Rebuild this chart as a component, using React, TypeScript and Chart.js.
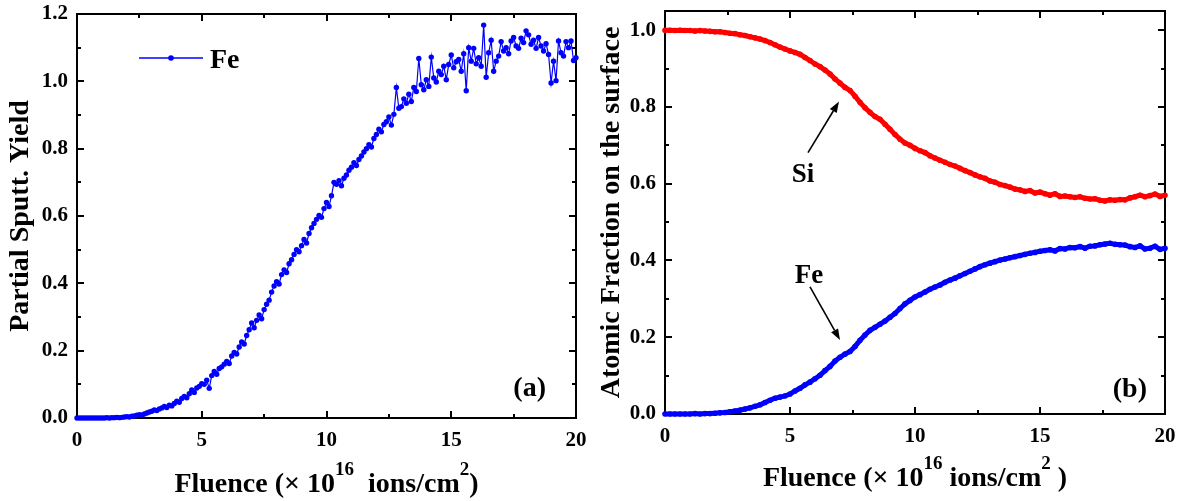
import React, { useEffect, useRef } from "react";
import { Chart, registerables } from "chart.js";

Chart.register(...registerables);

const FONT = "'Liberation Serif', 'Times New Roman', serif";

// ---- data ----
const FLUENCE_MAJOR = [0, 5, 10, 15, 20];
const FLUENCE_MINOR = [2.5, 7.5, 12.5, 17.5];
const STEP_A = 0.1; // fluence spacing of panel (a) samples
const STEP_B = 0.2; // fluence spacing of panel (b) samples

// Panel (a): partial sputtering yield of Fe
const FE_YIELD = [
  0.000, 0.000, 0.000, 0.000, 0.000, 0.000, 0.000, 0.000, 0.000, 0.000,
  0.000, 0.000, 0.001, 0.000, 0.001, 0.001, 0.002, 0.001, 0.002, 0.003,
  0.004, 0.003, 0.005, 0.006, 0.008, 0.010, 0.009, 0.012, 0.015, 0.018,
  0.020, 0.024, 0.022, 0.027, 0.030, 0.034, 0.031, 0.038, 0.036, 0.043,
  0.050, 0.047, 0.058, 0.064, 0.060, 0.072, 0.083, 0.076, 0.089, 0.094,
  0.102, 0.100, 0.112, 0.088, 0.126, 0.138, 0.130, 0.147, 0.152, 0.160,
  0.168, 0.162, 0.184, 0.195, 0.190, 0.211, 0.226, 0.220, 0.245, 0.262,
  0.282, 0.268, 0.290, 0.306, 0.295, 0.322, 0.338, 0.350, 0.374, 0.392,
  0.405, 0.398, 0.426, 0.440, 0.432, 0.458, 0.470, 0.486, 0.500, 0.494,
  0.512, 0.530, 0.520, 0.548, 0.565, 0.578, 0.590, 0.602, 0.596, 0.622,
  0.640, 0.628, 0.660, 0.700, 0.694, 0.705, 0.690, 0.712, 0.722, 0.736,
  0.745, 0.758, 0.750, 0.768, 0.778, 0.790, 0.800, 0.812, 0.805, 0.830,
  0.842, 0.858, 0.850, 0.872, 0.880, 0.894, 0.870, 0.902, 0.982, 0.920,
  0.925, 0.948, 0.935, 0.962, 0.940, 0.982, 0.970, 1.068, 0.990, 0.975,
  1.005, 0.985, 1.072, 1.010, 0.998, 1.030, 1.020, 1.045, 1.005, 1.050,
  1.078, 1.040, 1.058, 1.065, 1.030, 1.082, 0.972, 1.100, 1.060, 1.098,
  1.052, 1.070, 1.045, 1.167, 1.012, 1.085, 1.122, 1.030, 1.060, 1.075,
  1.118, 1.090, 1.100, 1.082, 1.120, 1.130, 1.105, 1.098, 1.128, 1.115,
  1.150, 1.138, 1.110, 1.122, 1.098, 1.130, 1.105, 1.090, 1.112, 1.080,
  0.995, 1.060, 1.002, 1.120, 1.085, 1.075, 1.118, 1.100, 1.120, 1.062,
  1.070,
];

// Panel (b): atomic fraction on the surface
const SI_FRACTION = [
  1.000, 1.000, 0.999, 1.000, 0.999, 0.999, 0.998, 0.999, 0.998, 0.997,
  0.996, 0.996, 0.994, 0.992, 0.991, 0.988, 0.986, 0.983, 0.980, 0.977,
  0.973, 0.968, 0.962, 0.956, 0.951, 0.946, 0.942, 0.937, 0.929, 0.921,
  0.912, 0.905, 0.896, 0.886, 0.873, 0.862, 0.851, 0.843, 0.828, 0.812,
  0.798, 0.786, 0.775, 0.768, 0.755, 0.742, 0.728, 0.716, 0.706, 0.700,
  0.692, 0.686, 0.681, 0.673, 0.667, 0.661, 0.656, 0.650, 0.646, 0.640,
  0.634, 0.629, 0.623, 0.618, 0.614, 0.607, 0.604, 0.598, 0.595, 0.591,
  0.586, 0.584, 0.580, 0.582, 0.576, 0.578, 0.574, 0.570, 0.574, 0.567,
  0.568, 0.566, 0.564, 0.566, 0.562, 0.560, 0.561, 0.557, 0.555, 0.558,
  0.557, 0.559, 0.558, 0.563, 0.566, 0.570, 0.566, 0.569, 0.573, 0.567,
  0.570,
];

const FE_FRACTION = [
  0.000, 0.000, 0.000, 0.000, 0.000, 0.000, 0.001, 0.000, 0.001, 0.001,
  0.002, 0.003, 0.004, 0.006, 0.008, 0.010, 0.013, 0.016, 0.020, 0.024,
  0.030, 0.036, 0.041, 0.044, 0.047, 0.052, 0.060, 0.067, 0.076, 0.083,
  0.092, 0.101, 0.113, 0.124, 0.138, 0.148, 0.156, 0.163, 0.176, 0.192,
  0.206, 0.218, 0.226, 0.234, 0.242, 0.252, 0.262, 0.275, 0.287, 0.296,
  0.305, 0.311, 0.318, 0.325, 0.331, 0.336, 0.343, 0.349, 0.354, 0.360,
  0.366, 0.372, 0.378, 0.384, 0.389, 0.393, 0.397, 0.401, 0.404, 0.407,
  0.410, 0.413, 0.416, 0.419, 0.421, 0.424, 0.426, 0.428, 0.425, 0.431,
  0.430, 0.434, 0.433, 0.436, 0.432, 0.437, 0.438, 0.441, 0.443, 0.445,
  0.442, 0.441, 0.440, 0.436, 0.434, 0.438, 0.430, 0.432, 0.437, 0.429,
  0.432,
];

const Y_A_MAJOR = [0, 0.2, 0.4, 0.6, 0.8, 1.0, 1.2];
const Y_A_MINOR = [0.1, 0.3, 0.5, 0.7, 0.9, 1.1];
const Y_B_MAJOR = [0, 0.2, 0.4, 0.6, 0.8, 1.0];
const Y_B_MINOR = [0.1, 0.3, 0.5, 0.7, 0.9];

// annotations in panel (b): [label, textX, textY, tailX, tailY, tipX, tipY]
const ANNOTATIONS: [string, number, number, number, number, number, number][] = [
  ["Si", 5.52, 0.605, 5.72, 0.681, 6.96, 0.814],
  ["Fe", 5.76, 0.342, 5.8, 0.331, 7.0, 0.193],
];

const toPoints = (vals: number[], step: number) =>
  vals.map((y, i) => ({ x: +(i * step).toFixed(3), y }));

type Piece = { t: string; sup?: boolean };

function makeDecor(cfg: {
  yMajor: number[];
  yMinor: number[];
  xTitle: Piece[];
  xTitleDy: number;
  panel: string;
  panelDx: number;
  panelDy: number;
  legend?: boolean;
  annotations?: boolean;
}) {
  return {
    id: "decor",
    beforeDatasetsDraw(chart: any) {
      const { ctx, chartArea: a, scales } = chart;
      const xs = scales.x;
      const ys = scales.y;
      ctx.save();
      ctx.strokeStyle = "#000";
      ctx.lineWidth = 2;
      ctx.strokeRect(a.left, a.top, a.right - a.left, a.bottom - a.top);
      const seg = (x1: number, y1: number, x2: number, y2: number) => {
        ctx.beginPath();
        ctx.moveTo(x1, y1);
        ctx.lineTo(x2, y2);
        ctx.stroke();
      };
      const xt = (vals: number[], len: number) => {
        for (const v of vals) {
          const p = Math.round(xs.getPixelForValue(v));
          seg(p, a.bottom, p, a.bottom - len);
          seg(p, a.top, p, a.top + len);
        }
      };
      const yt = (vals: number[], len: number) => {
        for (const v of vals) {
          const p = Math.round(ys.getPixelForValue(v));
          seg(a.left, p, a.left + len, p);
          seg(a.right, p, a.right - len, p);
        }
      };
      xt(FLUENCE_MAJOR, 7);
      xt(FLUENCE_MINOR, 4);
      yt(cfg.yMajor, 7);
      yt(cfg.yMinor, 4);
      ctx.restore();
    },
    afterDraw(chart: any) {
      const { ctx, chartArea: a, scales } = chart;
      const xs = scales.x;
      const ys = scales.y;
      ctx.save();
      ctx.fillStyle = "#000";
      ctx.textAlign = "left";
      ctx.textBaseline = "alphabetic";
      // x-axis title with superscripts
      const main = `bold 28px ${FONT}`;
      const sup = `bold 19px ${FONT}`;
      let total = 0;
      for (const p of cfg.xTitle) {
        ctx.font = p.sup ? sup : main;
        total += ctx.measureText(p.t).width;
      }
      let x = (a.left + a.right) / 2 - total / 2;
      const base = a.bottom + cfg.xTitleDy;
      for (const p of cfg.xTitle) {
        ctx.font = p.sup ? sup : main;
        ctx.fillText(p.t, x, p.sup ? base - 17 : base);
        x += ctx.measureText(p.t).width;
      }
      // panel label
      ctx.font = `bold 28px ${FONT}`;
      ctx.textAlign = "right";
      ctx.fillText(cfg.panel, a.right - cfg.panelDx, a.bottom - cfg.panelDy);
      // legend
      if (cfg.legend) {
        const ds = chart.data.datasets[0];
        const ly = a.top + 44;
        ctx.strokeStyle = ds.borderColor;
        ctx.lineWidth = 1.5;
        ctx.beginPath();
        ctx.moveTo(a.left + 62, ly);
        ctx.lineTo(a.left + 126, ly);
        ctx.stroke();
        ctx.fillStyle = ds.backgroundColor;
        ctx.beginPath();
        ctx.arc(a.left + 94, ly, 2.8, 0, Math.PI * 2);
        ctx.fill();
        ctx.fillStyle = "#000";
        ctx.textAlign = "left";
        ctx.font = `bold 28px ${FONT}`;
        ctx.fillText(ds.label, a.left + 133, a.top + 54);
      }
      if (cfg.annotations) {
        for (const [label, tx, ty, x1, y1, x2, y2] of ANNOTATIONS) {
          ctx.font = `bold 27px ${FONT}`;
          ctx.textAlign = "center";
          ctx.fillStyle = "#000";
          ctx.fillText(label, xs.getPixelForValue(tx), ys.getPixelForValue(ty));
          const px1 = xs.getPixelForValue(x1);
          const py1 = ys.getPixelForValue(y1);
          const px2 = xs.getPixelForValue(x2);
          const py2 = ys.getPixelForValue(y2);
          const ang = Math.atan2(py2 - py1, px2 - px1);
          const hl = 11;
          const hw = 4;
          const bx = px2 - hl * Math.cos(ang);
          const by = py2 - hl * Math.sin(ang);
          ctx.strokeStyle = "#000";
          ctx.lineWidth = 1.6;
          ctx.beginPath();
          ctx.moveTo(px1, py1);
          ctx.lineTo(bx, by);
          ctx.stroke();
          ctx.beginPath();
          ctx.moveTo(px2, py2);
          ctx.lineTo(bx + hw * Math.sin(ang), by - hw * Math.cos(ang));
          ctx.lineTo(bx - hw * Math.sin(ang), by + hw * Math.cos(ang));
          ctx.closePath();
          ctx.fill();
        }
      }
      ctx.restore();
    },
  };
}

function axes(yMax: number, yTitle: string, yWidth: number, xHeight: number, titlePad: number) {
  const tickFont = { family: FONT, size: 21, weight: "bold" as const };
  return {
    x: {
      type: "linear" as const,
      min: 0,
      max: 20,
      grid: { display: false, drawTicks: false },
      border: { display: false },
      ticks: {
        stepSize: 5,
        padding: 10,
        color: "#000",
        font: tickFont,
        maxRotation: 0,
        includeBounds: false,
      },
      afterFit: (s: any) => {
        s.height = xHeight;
        s.paddingLeft = 0;
        s.paddingRight = 0;
      },
    },
    y: {
      type: "linear" as const,
      min: 0,
      max: yMax,
      grid: { display: false, drawTicks: false },
      border: { display: false },
      ticks: {
        stepSize: 0.2,
        padding: 9,
        color: "#000",
        font: tickFont,
        includeBounds: false,
        callback: (v: any) => Number(v).toFixed(1),
      },
      title: {
        display: true,
        text: yTitle,
        color: "#000",
        font: { family: FONT, size: 28, weight: "bold" as const },
        padding: { top: titlePad, bottom: 0 },
      },
      afterFit: (s: any) => {
        s.width = yWidth;
        s.paddingTop = 0;
        s.paddingBottom = 0;
      },
    },
  };
}

function PanelA() {
  const ref = useRef<HTMLCanvasElement>(null);
  useEffect(() => {
    const chart = new Chart(ref.current!, {
      type: "line",
      data: {
        datasets: [
          {
            label: "Fe",
            data: toPoints(FE_YIELD, STEP_A),
            borderColor: "#0000ff",
            backgroundColor: "#0000ff",
            borderWidth: 1.2,
            pointRadius: 2.7,
            pointBorderWidth: 0,
            pointBackgroundColor: "#0000ff",
            tension: 0,
            clip: false as any,
          },
        ],
      },
      options: {
        responsive: false,
        animation: false,
        layout: { padding: { left: 0, top: 14, right: 14, bottom: 0 } },
        plugins: { legend: { display: false }, tooltip: { enabled: false } },
        scales: axes(1.2, "Partial Sputt. Yield", 77, 83, 4) as any,
      },
      plugins: [
        makeDecor({
          yMajor: Y_A_MAJOR,
          yMinor: Y_A_MINOR,
          xTitle: [
            { t: "Fluence (× 10" },
            { t: "16", sup: true },
            { t: "  ions/cm" },
            { t: "2", sup: true },
            { t: ")" },
          ],
          xTitleDy: 74,
          panel: "(a)",
          panelDx: 30,
          panelDy: 22,
          legend: true,
        }),
      ],
    });
    return () => chart.destroy();
  }, []);
  return <canvas ref={ref} width={590} height={501} style={{ display: "block" }} />;
}

function PanelB() {
  const ref = useRef<HTMLCanvasElement>(null);
  useEffect(() => {
    const chart = new Chart(ref.current!, {
      type: "line",
      data: {
        datasets: [
          {
            label: "Si",
            data: toPoints(SI_FRACTION, STEP_B),
            borderColor: "#ff0000",
            backgroundColor: "#ff0000",
            borderWidth: 5,
            pointRadius: 2.8,
            pointBorderWidth: 0,
            pointBackgroundColor: "#ff0000",
            tension: 0,
            clip: false as any,
          },
          {
            label: "Fe",
            data: toPoints(FE_FRACTION, STEP_B),
            borderColor: "#0000ff",
            backgroundColor: "#0000ff",
            borderWidth: 5,
            pointRadius: 2.8,
            pointBorderWidth: 0,
            pointBackgroundColor: "#0000ff",
            tension: 0,
            clip: false as any,
          },
        ],
      },
      options: {
        responsive: false,
        animation: false,
        layout: { padding: { left: 0, top: 11, right: 18, bottom: 0 } },
        plugins: { legend: { display: false }, tooltip: { enabled: false } },
        scales: axes(1.05, "Atomic Fraction on the surface", 75, 87, 5) as any,
      },
      plugins: [
        makeDecor({
          yMajor: Y_B_MAJOR,
          yMinor: Y_B_MINOR,
          xTitle: [
            { t: "Fluence (× 10" },
            { t: "16", sup: true },
            { t: " ions/cm" },
            { t: "2", sup: true },
            { t: " )" },
          ],
          xTitleDy: 72,
          panel: "(b)",
          panelDx: 18,
          panelDy: 17,
          annotations: true,
        }),
      ],
    });
    return () => chart.destroy();
  }, []);
  return <canvas ref={ref} width={593} height={501} style={{ display: "block" }} />;
}

export default function App() {
  return (
    <div
      style={{
        position: "absolute",
        left: 0,
        top: 0,
        width: 1183,
        height: 501,
        background: "#fff",
        overflow: "hidden",
      }}
    >
      <div style={{ position: "absolute", left: 0, top: 0 }}>
        <PanelA />
      </div>
      <div style={{ position: "absolute", left: 590, top: 0 }}>
        <PanelB />
      </div>
    </div>
  );
}
